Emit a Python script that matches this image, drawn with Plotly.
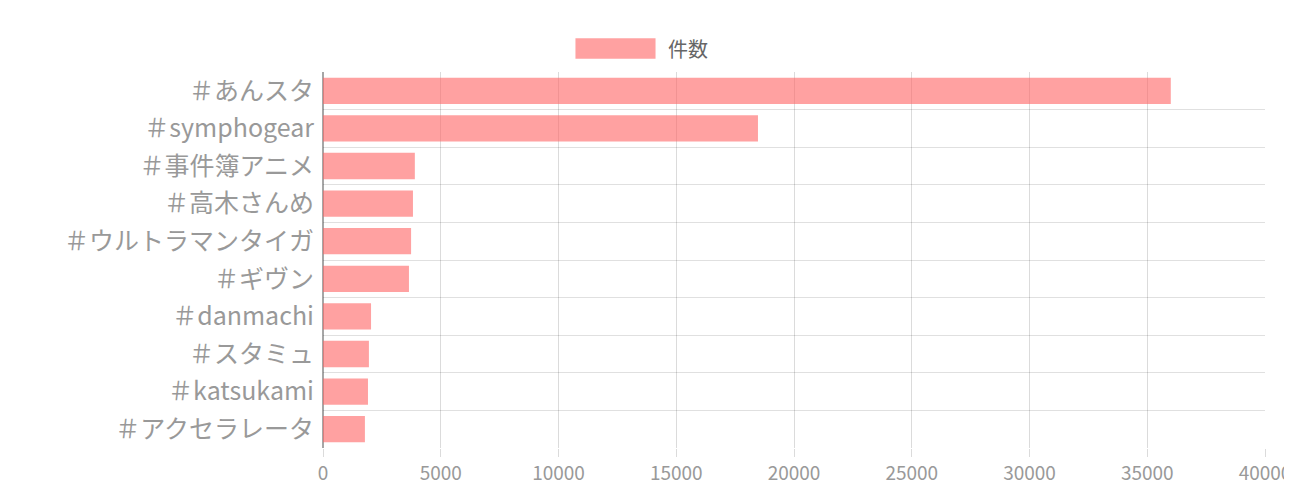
import plotly.graph_objects as go

categories = ["＃あんスタ", "＃symphogear", "＃事件簿アニメ", "＃高木さんめ", "＃ウルトラマンタイガ",
              "＃ギヴン", "＃danmachi", "＃スタミュ", "＃katsukami", "＃アクセラレータ"]
values = [36000, 18470, 3900, 3820, 3740, 3650, 2040, 1950, 1910, 1780]
series_name = "件数"

FONT = "Ubuntu Condensed, Liberation Sans Narrow, Noto Sans CJK JP, sans-serif"
pos = list(range(len(categories)))

fig = go.Figure(go.Bar(
    x=values, y=pos, orientation="h", name=series_name,
    marker=dict(color="rgba(255,99,99,0.6)", line=dict(width=0)),
    width=0.7, showlegend=False,
))
fig.update_layout(
    width=1292, height=500,
    margin=dict(l=315, r=35, t=64, b=60, autoexpand=False),
    plot_bgcolor="white", paper_bgcolor="white",
    font=dict(family=FONT, color="#999"),
    xaxis=dict(range=[0, 40000], tickvals=list(range(0, 40001, 5000)), tickformat="d",
               automargin=False,
               tickfont=dict(size=19, color="#999"), gridcolor="rgba(0,0,0,0.14)",
               ticks="outside", ticklen=8, tickcolor="rgba(0,0,0,0.14)",
               zeroline=True, zerolinecolor="rgba(0,0,0,0.35)", showline=False),
    yaxis=dict(range=[len(categories) - 0.5, -0.5], tickvals=pos, ticktext=categories,
               automargin=False,
               tickfont=dict(size=25, color="#999"), showgrid=False, zeroline=False,
               ticks="", ticklabelstandoff=8,
               minor=dict(tickvals=[i + 0.5 for i in range(-1, len(categories))],
                          showgrid=True, gridcolor="rgba(0,0,0,0.12)")),
    shapes=[dict(type="rect", xref="paper", yref="paper", x0=0.268, x1=0.353,
                 y0=1.035, y1=1.09, fillcolor="rgba(255,99,99,0.6)", line=dict(width=0))],
    annotations=[dict(text=series_name, xref="paper", yref="paper", x=0.364, y=1.063,
                      xanchor="left", yanchor="middle", showarrow=False,
                      font=dict(size=20, color="#666", family=FONT))],
)
fig.write_html("out.html")
